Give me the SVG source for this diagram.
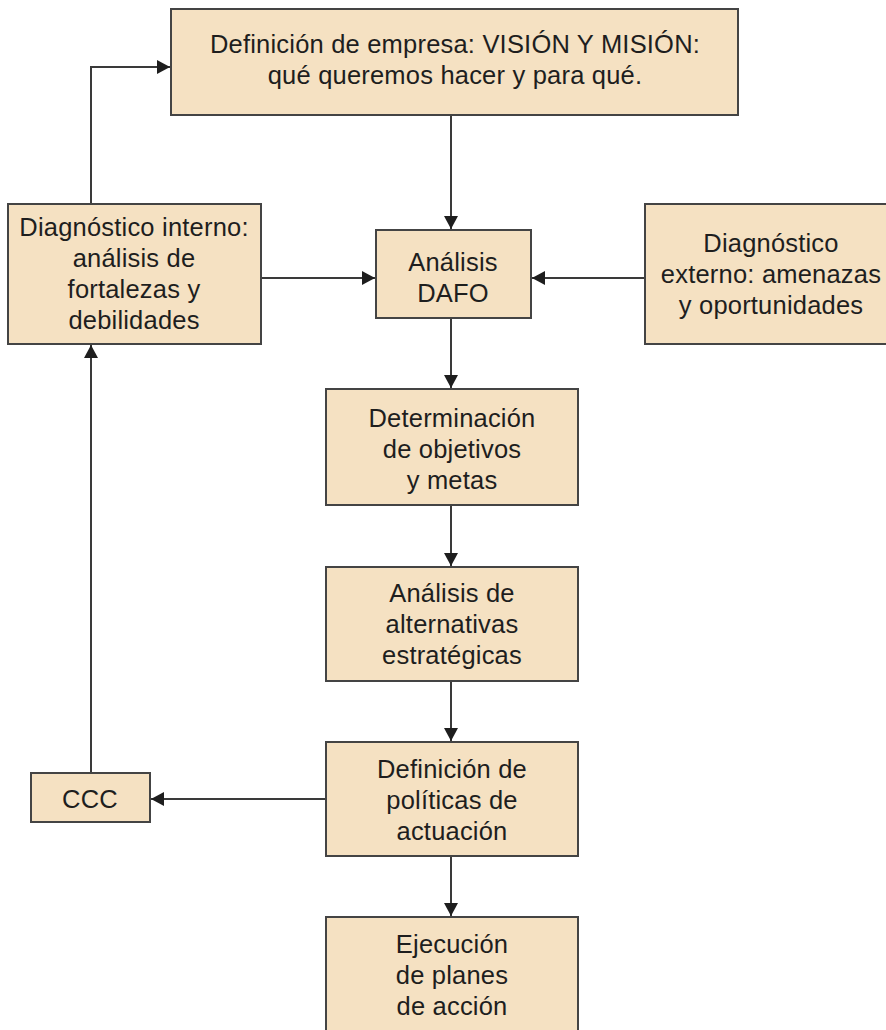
<svg xmlns="http://www.w3.org/2000/svg" width="886" height="1030" viewBox="0 0 886 1030">
<style>
.box{fill:#f5e1c2;stroke:#444;stroke-width:2}
.t{font-family:"Liberation Sans",Arial,sans-serif;font-size:25.5px;letter-spacing:0.2px;fill:#1e1e1e;text-anchor:middle}
.c{fill:none;stroke:#3a3a3a;stroke-width:2}
</style>
<defs>
<marker id="ah" markerUnits="userSpaceOnUse" markerWidth="14" markerHeight="14" refX="13" refY="7" orient="auto">
<path d="M0,0 L13,7 L0,14 z" fill="#1e1e1e"/>
</marker>
</defs>
<rect width="886" height="1030" fill="#fff"/>
<g id="connectors">
<path class="c" d="M451,115 V229" marker-end="url(#ah)"/>
<path class="c" d="M261,278 H375" marker-end="url(#ah)"/>
<path class="c" d="M645,278 H532" marker-end="url(#ah)"/>
<path class="c" d="M451,318 V388" marker-end="url(#ah)"/>
<path class="c" d="M451,505 V566" marker-end="url(#ah)"/>
<path class="c" d="M451,681 V741" marker-end="url(#ah)"/>
<path class="c" d="M451,856 V916" marker-end="url(#ah)"/>
<path class="c" d="M326,799 H151" marker-end="url(#ah)"/>
<path class="c" d="M91,773 V345" marker-end="url(#ah)"/>
<path class="c" d="M91,204 V67 H170" marker-end="url(#ah)"/>
</g>
<g id="mision">
<rect class="box" x="171" y="9" width="567" height="106"/>
<text class="t" x="455" y="53">Definición de empresa: VISIÓN Y MISIÓN:</text>
<text class="t" x="455" y="84">qué queremos hacer y para qué.</text>
</g>
<g id="interno">
<rect class="box" x="8" y="204" width="253" height="140"/>
<text class="t" x="134" y="236">Diagnóstico interno:</text>
<text class="t" x="134" y="267">análisis de</text>
<text class="t" x="134" y="298">fortalezas y</text>
<text class="t" x="134" y="329">debilidades</text>
</g>
<g id="dafo">
<rect class="box" x="376" y="230" width="155" height="88"/>
<text class="t" x="453" y="271">Análisis</text>
<text class="t" x="453" y="302">DAFO</text>
</g>
<g id="externo">
<rect class="box" x="645" y="204" width="252" height="140"/>
<text class="t" x="771" y="252">Diagnóstico</text>
<text class="t" x="771" y="283">externo: amenazas</text>
<text class="t" x="771" y="314">y oportunidades</text>
</g>
<g id="objetivos">
<rect class="box" x="326" y="389" width="252" height="116"/>
<text class="t" x="452" y="427">Determinación</text>
<text class="t" x="452" y="458">de objetivos</text>
<text class="t" x="452" y="489">y metas</text>
</g>
<g id="alternativas">
<rect class="box" x="326" y="567" width="252" height="114"/>
<text class="t" x="452" y="602">Análisis de</text>
<text class="t" x="452" y="633">alternativas</text>
<text class="t" x="452" y="664">estratégicas</text>
</g>
<g id="politicas">
<rect class="box" x="326" y="742" width="252" height="114"/>
<text class="t" x="452" y="778">Definición de</text>
<text class="t" x="452" y="809">políticas de</text>
<text class="t" x="452" y="840">actuación</text>
</g>
<g id="ccc">
<rect class="box" x="31" y="773" width="119" height="49"/>
<text class="t" x="90" y="808">CCC</text>
</g>
<g id="ejecucion">
<rect class="box" x="326" y="917" width="252" height="130"/>
<text class="t" x="452" y="953">Ejecución</text>
<text class="t" x="452" y="984">de planes</text>
<text class="t" x="452" y="1015">de acción</text>
</g>
</svg>
